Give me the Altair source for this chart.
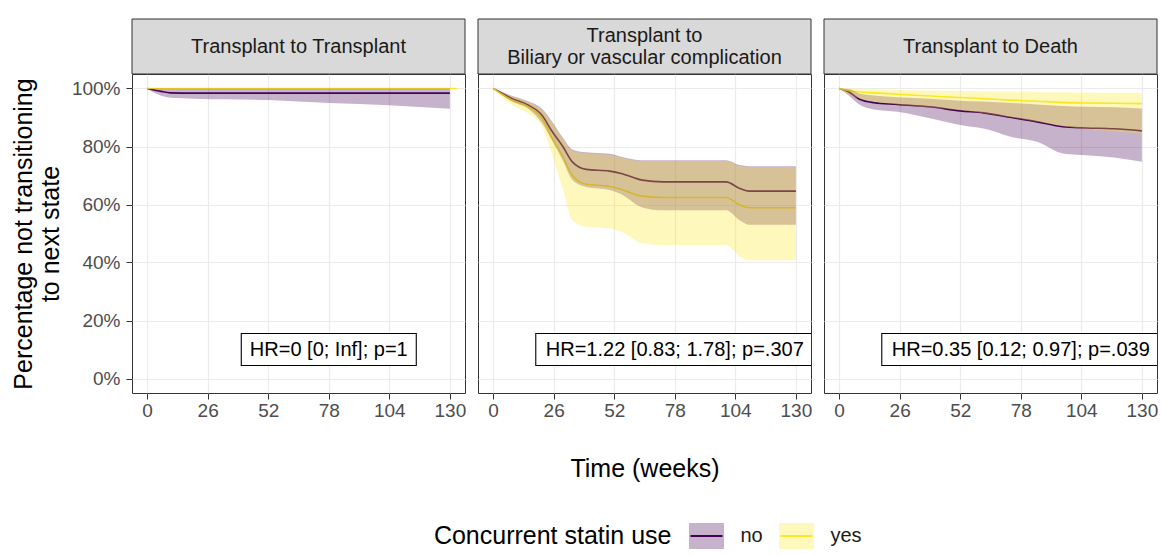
import altair as alt
import pandas as pd

# ---------------- data ----------------
groups = ["no", "yes"]
group_colors = ["#440154", "#FDE725"]
strip_titles = ["Transplant to Transplant",
                "Transplant to\nBiliary or vascular complication",
                "Transplant to Death"]
hr_labels = ["HR=0 [0; Inf]; p=1",
             "HR=1.22 [0.83; 1.78]; p=.307",
             "HR=0.35 [0.12; 0.97]; p=.039"]
x_ticks = [0, 26, 52, 78, 104, 130]
y_ticks = [0, 20, 40, 60, 80, 100]
legend_title = "Concurrent statin use"
x_title = "Time (weeks)"
y_title = ["Percentage not transitioning", "to next state"]

# Panel 1: Transplant to Transplant
p1_no_t = [0, 3, 6, 10, 20, 52, 78, 104, 130]
p1_no_est = [100, 99.5, 99.0, 98.5, 98.4, 98.4, 98.4, 98.4, 98.4]
p1_no_lo = [100, 98.5, 97.5, 96.8, 96.5, 96.0, 95.0, 94.2, 93.0]
p1_no_hi = [100, 100, 100, 100, 100, 100, 100, 100, 100]
p1_yes_t = [0, 133]
p1_yes_est = [100, 100]
p1_yes_lo = [100, 100]
p1_yes_hi = [100, 100]

# Panel 2: Transplant to Biliary or vascular complication
p2_t = [0, 8, 15, 21, 25, 30, 34, 40, 50, 55, 64, 73, 100, 106, 110, 130]
p2_no_est = [100, 96.6, 94.3, 90.8, 85.6, 79.9, 74.7, 72.1, 71.5, 70.7, 68.4, 67.8, 67.8, 65.5, 64.6, 64.6]
p2_no_lo = [100, 95.5, 93.0, 88.0, 82.5, 75.0, 68.5, 66.0, 65.0, 63.5, 59.0, 58.0, 58.0, 54.5, 53.0, 53.0]
p2_no_hi = [100, 97.5, 95.6, 93.0, 89.0, 83.0, 79.0, 78.0, 77.5, 76.5, 75.3, 75.3, 75.3, 73.6, 73.2, 73.2]
p2_yes_est = [100, 96.0, 93.7, 89.7, 83.3, 76.4, 70.1, 67.0, 66.3, 65.2, 62.9, 62.4, 62.4, 59.8, 58.9, 58.9]
p2_yes_lo = [100, 94.3, 91.4, 86.8, 78.0, 65.0, 54.5, 52.3, 51.7, 50.6, 46.6, 46.0, 46.0, 42.0, 40.8, 40.8]
p2_yes_hi = [100, 97.3, 95.3, 92.7, 88.6, 82.5, 78.5, 77.6, 77.1, 76.1, 75.0, 75.0, 75.0, 73.3, 72.9, 72.9]

# Panel 3: Transplant to Death
p3_t = [0, 4, 9, 15, 25, 39, 52, 62, 74, 85, 96, 106, 118, 130]
p3_no_est = [100, 98.9, 96.2, 95.1, 94.5, 93.7, 92.3, 91.6, 90.0, 88.5, 86.8, 86.4, 86.1, 85.4]
p3_no_lo = [100, 97.7, 94.3, 92.8, 92.0, 89.7, 87.4, 86.2, 83.3, 81.6, 77.6, 77.0, 76.2, 74.7]
p3_no_hi = [100, 99.8, 98.2, 97.6, 97.0, 96.5, 95.8, 95.5, 95.0, 94.5, 94.0, 93.7, 93.5, 93.1]
p3_yes_est = [100, 99.3, 98.8, 98.5, 98.0, 97.4, 96.9, 96.5, 96.0, 95.6, 95.2, 95.0, 94.9, 94.8]
p3_yes_lo = [100, 98.0, 96.5, 95.5, 94.5, 93.5, 92.5, 91.5, 90.0, 88.5, 87.0, 86.0, 85.2, 84.5]
p3_yes_hi = [100, 100, 99.8, 99.7, 99.5, 99.3, 99.1, 99.0, 98.9, 98.8, 98.7, 98.6, 98.5, 98.5]

panels = [
    {"no": (p1_no_t, p1_no_est, p1_no_lo, p1_no_hi),
     "yes": (p1_yes_t, p1_yes_est, p1_yes_lo, p1_yes_hi)},
    {"no": (p2_t, p2_no_est, p2_no_lo, p2_no_hi),
     "yes": (p2_t, p2_yes_est, p2_yes_lo, p2_yes_hi)},
    {"no": (p3_t, p3_no_est, p3_no_lo, p3_no_hi),
     "yes": (p3_t, p3_yes_est, p3_yes_lo, p3_yes_hi)},
]

# ---------------- styling ----------------
FONT = "Liberation Sans"
PW, PH, SH = 333, 319, 55
GAP = 13
STRIP_LH = 22
HR_T, HR_PCT = 78, 10
BOX_W = [175, 278, 278]
BOX_H = 32
# legend placement, in pixels relative to the middle panel
LEG_KEYS_X = [228.5, 318.5]
LEG_Y = PH + 143
KEY_W, KEY_H = 35, 26

cscale = alt.Scale(domain=groups, range=group_colors)
xs = alt.Scale(domain=[-6.5, 136.5], nice=False, zero=False)
ys = alt.Scale(domain=[-5, 105], nice=False, zero=False)

GRID = dict(grid=True, gridColor="#EBEBEB", gridWidth=1.2)


def x_axis(title):
    return alt.Axis(title=title, values=x_ticks, domain=False, ticks=True,
                    tickColor="#333333", tickSize=6, tickWidth=1,
                    labelColor="#4D4D4D", labelFontSize=19, labelPadding=2,
                    labelOverlap=False, labelFlush=False,
                    titleFontSize=25, titleFontWeight="normal", titleColor="#000000",
                    titlePadding=36, **GRID)


def y_axis(first):
    if first:
        return alt.Axis(values=y_ticks, title=y_title, labelExpr="datum.value + '%'",
                        domain=False, ticks=True, tickColor="#333333", tickSize=6,
                        labelColor="#4D4D4D", labelFontSize=19, labelPadding=6,
                        titleFontSize=25, titleFontWeight="normal", titleColor="#000000",
                        titlePadding=8, titleLineHeight=27, **GRID)
    return alt.Axis(values=y_ticks, title=None, labels=False, ticks=False,
                    domain=False, **GRID)


def legend_layers():
    leg_df = pd.DataFrame({"grp": groups})
    leg_x = alt.X("grp:N", sort=groups, axis=None,
                  scale=alt.Scale(type="point", range=LEG_KEYS_X, padding=0))
    leg_color = alt.Color("grp:N", scale=cscale, legend=None)
    r = KEY_H / KEY_W
    keys = alt.Chart(leg_df).mark_point(
        shape=f"M-1,-{r:.4f}H1V{r:.4f}H-1Z", size=KEY_W * KEY_W, filled=True,
        opacity=0.3, strokeWidth=0).encode(x=leg_x, y=alt.value(LEG_Y), color=leg_color)
    key_lines = alt.Chart(leg_df).mark_point(
        shape="stroke", size=1024, strokeWidth=2, opacity=1, filled=False).encode(
        x=leg_x, y=alt.value(LEG_Y), color=leg_color)
    labels = alt.Chart(leg_df).mark_text(align="left", dx=34, fontSize=20,
                                         baseline="middle", color="#1A1A1A").encode(
        x=leg_x, y=alt.value(LEG_Y), text="grp:N")
    title_df = pd.DataFrame({"grp": [groups[0]], "label": [legend_title]})
    title = alt.Chart(title_df).mark_text(align="right", dx=-35, fontSize=25,
                                          baseline="middle", color="#000000").encode(
        x=leg_x, y=alt.value(LEG_Y), text="label:N")
    return alt.layer(keys, key_lines, labels, title)


def make_panel(i):
    rows = []
    for g in groups:
        t, est, lo, hi = panels[i][g]
        for a, b, c, d in zip(t, est, lo, hi):
            rows.append({"t": a, "est": b, "lo": c, "hi": d, "grp": g})
    df = pd.DataFrame(rows)
    xa = x_axis(x_title if i == 1 else None)
    ya = y_axis(i == 0)
    color = alt.Color("grp:N", scale=cscale, legend=None)
    lines = alt.Chart(df).mark_line(strokeWidth=1.6, interpolate="monotone").encode(
        x=alt.X("t:Q", scale=xs, axis=xa),
        y=alt.Y("est:Q", scale=ys, axis=ya),
        color=color)
    bands = alt.Chart(df).mark_area(opacity=0.3, interpolate="monotone").encode(
        x=alt.X("t:Q", scale=xs, axis=xa),
        y=alt.Y("lo:Q", scale=ys, axis=ya),
        y2="hi:Q",
        color=color)
    w = BOX_W[i]
    h = BOX_H / w
    box_shape = f"M-1,-{h:.4f}H1V{h:.4f}H-1Z"
    lab_df = pd.DataFrame({"label": [hr_labels[i]]})
    box = alt.Chart(lab_df).mark_point(
        shape=box_shape, size=w * w, filled=True, fill="white", stroke="#000000",
        strokeWidth=1.1, opacity=1, fillOpacity=1, strokeOpacity=1, clip=True).encode(
        x=alt.XDatum(HR_T, type="quantitative", scale=xs, axis=xa),
        y=alt.YDatum(HR_PCT, type="quantitative", scale=ys, axis=ya))
    txt = alt.Chart(lab_df).mark_text(fontSize=20, color="#000000", align="center",
                                      baseline="middle", clip=True).encode(
        x=alt.XDatum(HR_T, type="quantitative", scale=xs, axis=xa),
        y=alt.YDatum(HR_PCT, type="quantitative", scale=ys, axis=ya),
        text="label:N")
    # facet strip (header) above the panel
    sdf = pd.DataFrame({"label": [strip_titles[i]]})
    n_lines = strip_titles[i].count("\n") + 1
    strip_bg = alt.Chart(sdf).mark_rect(fill="#D9D9D9", stroke="#333333",
                                        strokeWidth=1).encode(
        x=alt.value(0), x2=alt.value(PW), y=alt.value(-SH), y2=alt.value(0))
    strip_txt = alt.Chart(sdf).mark_text(fontSize=20, color="#1A1A1A", lineBreak="\n",
                                         lineHeight=STRIP_LH, align="center",
                                         baseline="middle").encode(
        x=alt.value(PW / 2),
        y=alt.value(-SH / 2 - (n_lines - 1) * STRIP_LH / 2),
        text="label:N")
    core = alt.layer(lines, bands, box, txt, strip_bg, strip_txt)
    if i == 1:
        core = alt.layer(core, legend_layers()).resolve_scale(x="independent")
    return core.properties(width=PW, height=PH)


row = alt.hconcat(*[make_panel(i) for i in range(3)], spacing=GAP, bounds="flush")

chart = row.properties(
    padding={"left": 2, "top": 10, "right": 0, "bottom": 0}
).configure(font=FONT).configure_view(stroke="#333333", strokeWidth=1)

chart.save("out.html", embed_options={"renderer": "svg", "actions": False})
